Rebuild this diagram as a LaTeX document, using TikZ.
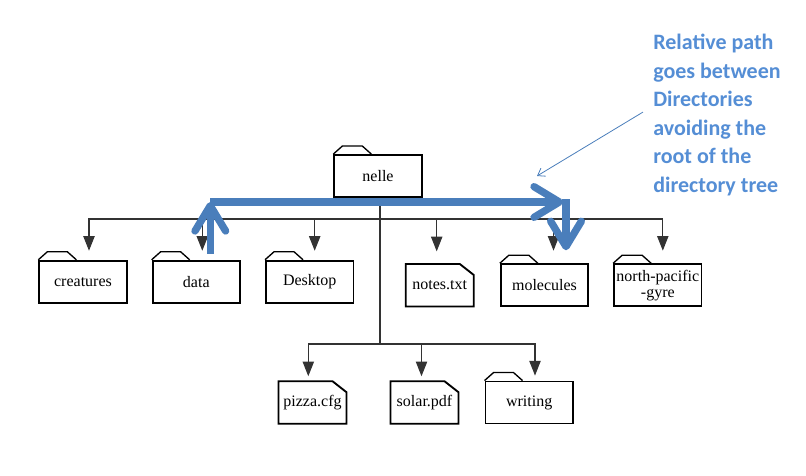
\documentclass[tikz,border=0pt]{standalone}
\usepackage{fontspec}
\setmainfont{Liberation Serif}
\newfontfamily\notefont{Carlito}
\usetikzlibrary{arrows.meta,calc}
\definecolor{relblue}{RGB}{74,126,187}
\definecolor{noteblue}{RGB}{85,142,213}

\tikzset{
  dirbox/.style={draw, line width=1.4pt, minimum width=65.6pt, minimum height=31.5pt,
    inner sep=1pt, align=center, font=\fontsize{12}{12}\selectfont},
  filebox/.style={minimum width=50.6pt, minimum height=31.5pt,
    inner sep=1pt, align=center, font=\fontsize{12}{12}\selectfont},
  fileline/.style={line width=1.4pt, line join=miter},
  tabline/.style={line width=1pt},
  bus/.style={draw=black!80, line width=0.8pt},
  link/.style={bus, -{Triangle[length=11pt,width=8.5pt]}},
  relpath/.style={draw=relblue, line width=5.5pt, -{Straight Barb[length=19pt,width=23pt,round]}},
  hintline/.style={draw=relblue, line width=0.6pt, -{Straight Barb[length=5pt,width=7pt]}}
}

\begin{document}
\begin{tikzpicture}[x=0.75pt,y=-0.75pt]
\useasboundingbox (0,0) rectangle (806,475);
% directories
\node[dirbox] (nelle) at (378,176) {nelle};
\node[dirbox] (creatures) at (83,281.7) {creatures};
\node[dirbox] (data) at (196.3,281.7) {data};
\node[dirbox] (desktop) at (309.7,281.7) {Desktop};
\node[filebox] (notes) at (439.7,285.2) {notes.txt};
\node[dirbox] (molecules) at (544.5,285.2) {molecules};
\node[dirbox] (pacific) at (657.8,285.2) {north-pacific\\-gyre};
\node[filebox] (pizza) at (312.5,402.5) {pizza.cfg};
\node[filebox] (solar) at (424.5,402.5) {solar.pdf};
\node[dirbox] (writing) at (529.2,402.5) {writing};
% folder tabs and dog-eared files
\foreach \n in {nelle,creatures,data,desktop,molecules,pacific,writing}
  \draw[tabline] (\n.north west) -- ++(9,-8) -- ++(20,0) -- ++(9,8);
\foreach \n in {notes,pizza,solar}
  \draw[fileline] (\n.south west) -- (\n.north west) -- ($(\n.north east)+(-14,0)$)
    -- ($(\n.north east)+(0,11)$) -- (\n.south east) -- cycle;
% tree
\coordinate (fork) at (380,219);
\coordinate (lowfork) at (380,344);
\draw[bus] (nelle.south -| fork) -- (lowfork);
\foreach \n/\dx/\dy in {creatures/6/-9, data/6/-9, desktop/5/-9,
    notes/-3/-12.6, molecules/9/-12.6, pacific/5/-12.6}
  \draw[link] (fork) -| ($(\n.north)+(\dx,\dy)$);
\foreach \n/\dx in {pizza/-4.2, solar/-3, writing/5.8}
  \draw[link] (lowfork) -| ($(\n.north)+(\dx,-5)$);
% relative path
\coordinate (relup) at ($(data.north)+(14,-6)$);
\coordinate (relA) at (210.3,202);
\coordinate (relB) at (563,202);
\coordinate (relC) at (566,199);
\coordinate (reldown) at ($(molecules.north)+(21.5,-13)$);
\draw[relpath] (relup) -- (relA);
\draw[relpath] (relA) -- (relB);
\draw[relpath] (relC) -- (reldown);
% note
\node[anchor=north west, inner sep=0pt, align=left, text=noteblue,
  font=\notefont\bfseries\fontsize{16.5}{21.4}\selectfont] (note) at (653,34)
  {Relative path\\goes between\\Directories\\avoiding the\\root of the\\directory tree};
\coordinate (hint) at (537,176);
\draw[hintline] ($(note.west)+(-10,-3)$) -- (hint);
\end{tikzpicture}
\end{document}
